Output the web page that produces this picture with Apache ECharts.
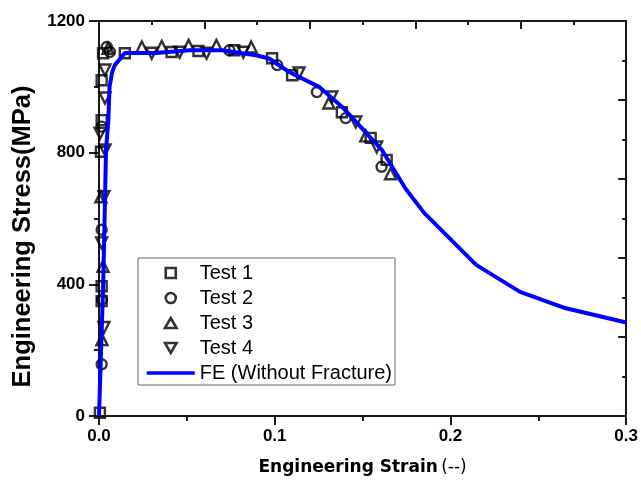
<!DOCTYPE html>
<html>
<head>
<meta charset="utf-8">
<script src="https://cdn.jsdelivr.net/npm/echarts@6/dist/echarts.min.js"></script>
<style>
html,body{margin:0;padding:0;background:#fff;}
#chart{width:641px;height:481px;}
</style>
</head>
<body>
<div id="chart"></div>
<script>
// FE curve (Without Fracture)
const feStrain = [0, 0.0024, 0.004, 0.0053, 0.006, 0.0075, 0.009, 0.0147, 0.0327, 0.0515, 0.070, 0.0893, 0.0968, 0.1082, 0.1252, 0.1384, 0.1497, 0.161, 0.1743, 0.185, 0.2146, 0.2396, 0.2645, 0.3];
const feStress = [0, 405, 808, 898, 1000, 1045, 1066, 1103, 1103, 1111, 1111, 1096, 1086, 1045, 1000, 939, 874, 808, 692, 617, 459, 377, 329, 284];

const test1Strain = [0.0005, 0.0015, 0.0015, 0.0011, 0.0015, 0.0015, 0.0023, 0.0147, 0.0413, 0.0566, 0.077, 0.0985, 0.1099, 0.1382, 0.1546, 0.1637];
const test1Stress = [10, 349, 394, 803, 899, 1020, 1102, 1102, 1106, 1109, 1111, 1087, 1035, 923, 845, 778];

const test2Strain = [0.0015, 0.0017, 0.0015, 0.0015, 0.0044, 0.0062, 0.0742, 0.1014, 0.124, 0.1404, 0.1608];
const test2Stress = [157, 354, 566, 879, 1121, 1106, 1111, 1066, 984, 905, 757];

const test3Strain = [0.0017, 0.0023, 0.0011, 0.0051, 0.0244, 0.0357, 0.051, 0.0668, 0.0866, 0.1308, 0.1518, 0.1659];
const test3Stress = [232, 455, 666, 1117, 1121, 1123, 1126, 1126, 1121, 951, 851, 736];

const test4Strain = [0.0028, 0.0015, 0.0028, 0.0006, 0.0034, 0.0034, 0.0034, 0.03, 0.0459, 0.0612, 0.0821, 0.1138, 0.1325, 0.1461, 0.158];
const test4Stress = [269, 526, 666, 859, 808, 966, 1051, 1102, 1105, 1102, 1105, 1042, 969, 893, 817];

const xTickLabels = ['0.0', '0.1', '0.2', '0.3'];
const yTickLabels = ['0', '400', '800', '1200'];
const seriesNames = ['Test 1', 'Test 2', 'Test 3', 'Test 4', 'FE (Without Fracture)'];

function pairs(xs, ys) { return xs.map((x, i) => [x, ys[i]]); }

const chart = echarts.init(document.getElementById('chart'), null, {renderer: 'canvas'});
const axisCol = '#1a1a1a';
const markerStyle = {color: 'rgba(255,255,255,0)', borderColor: '#000', borderWidth: 2.4};
const legendMarker = {color: 'rgba(255,255,255,0)', borderColor: '#000', borderWidth: 2.6};

function scatter(name, data, symbol, rotate, size) {
  return {
    name: name, type: 'scatter', data: data, symbol: symbol, symbolSize: size,
    symbolRotate: rotate || 0, symbolKeepAspect: true, itemStyle: markerStyle, z: 2,
    xAxisIndex: 0, yAxisIndex: 0
  };
}

const option = {
  animation: false,
  backgroundColor: '#fff',
  grid: {left: 99, right: 12, top: 21, bottom: 64, containLabel: false},
  legend: {
    orient: 'vertical', left: 138, top: 258,
    padding: [5, 3, 2, 7],
    borderColor: '#666', borderWidth: 1,
    itemWidth: 48, itemHeight: 10, itemGap: 5,
    symbolKeepAspect: true,
    textStyle: {fontFamily: 'Liberation Sans', fontSize: 20, color: '#000', lineHeight: 20},
    data: [
      {name: seriesNames[0], icon: 'path://M0,0L10,0L10,10L0,10Z', itemStyle: legendMarker},
      {name: seriesNames[1], icon: 'circle', itemStyle: legendMarker},
      {name: seriesNames[2], icon: 'path://M5,0L10,8.66L0,8.66Z', itemStyle: legendMarker},
      {name: seriesNames[3], icon: 'path://M0,0L10,0L5,8.66Z', itemStyle: legendMarker},
      {name: seriesNames[4], itemStyle: {opacity: 0}, lineStyle: {width: 3.5, color: '#0000FF'}}
    ]
  },
  xAxis: [{
    type: 'value', position: 'bottom', min: 0, max: 0.3, interval: 0.1,
    name: '{b|Engineering Strain} {r|(--)}', nameLocation: 'middle', nameGap: 43,
    nameTextStyle: {
      rich: {
        b: {fontFamily: 'DejaVu Sans', fontWeight: 'bold', fontSize: 17, color: '#000'},
        r: {fontFamily: 'DejaVu Sans', fontSize: 17, color: '#000'}
      }
    },
    axisLine: {show: true, onZero: false, lineStyle: {color: axisCol, width: 2}},
    axisTick: {show: true, inside: false, length: 9, lineStyle: {color: axisCol, width: 2}},
    minorTick: {show: true, splitNumber: 2, length: 5, lineStyle: {color: axisCol, width: 2}},
    splitLine: {show: false},
    axisLabel: {margin: 12, fontFamily: 'Liberation Sans', fontWeight: 'bold', fontSize: 17, color: '#000',
      formatter: function (v) { return xTickLabels[Math.round(v * 10)]; }}
  }, {
    type: 'value', position: 'top', min: 0, max: 0.3, interval: 0.06,
    axisLine: {show: true, onZero: false, lineStyle: {color: axisCol, width: 2}},
    axisTick: {show: true, inside: true, length: 8, lineStyle: {color: axisCol, width: 2}},
    minorTick: {show: true, splitNumber: 2, length: 4, lineStyle: {color: axisCol, width: 2}},
    splitLine: {show: false}, axisLabel: {show: false}
  }],
  yAxis: [{
    type: 'value', position: 'left', min: 0, max: 1200, interval: 400,
    name: 'Engineering Stress(MPa)', nameLocation: 'middle', nameGap: 62, nameRotate: 90,
    nameTextStyle: {fontFamily: 'Liberation Sans', fontWeight: 'bold', fontSize: 25.5, color: '#000', padding: [0, 36, 0, 0]},
    axisLine: {show: true, onZero: false, lineStyle: {color: axisCol, width: 2}},
    axisTick: {show: true, inside: false, length: 10, lineStyle: {color: axisCol, width: 2}},
    minorTick: {show: true, splitNumber: 2, length: 5, lineStyle: {color: axisCol, width: 2}},
    splitLine: {show: false},
    axisLabel: {margin: 14, fontFamily: 'Liberation Sans', fontWeight: 'bold', fontSize: 17, color: '#000',
      formatter: function (v) { return yTickLabels[Math.round(v / 400)]; }}
  }, {
    type: 'value', position: 'right', min: 0, max: 1200, interval: 240,
    axisLine: {show: true, onZero: false, lineStyle: {color: axisCol, width: 2}},
    axisTick: {show: true, inside: true, length: 8, lineStyle: {color: axisCol, width: 2}},
    minorTick: {show: true, splitNumber: 2, length: 4, lineStyle: {color: axisCol, width: 2}},
    splitLine: {show: false}, axisLabel: {show: false}
  }],
  series: [
    scatter('Test 1', pairs(test1Strain, test1Stress), 'rect', 0, 10),
    scatter('Test 2', pairs(test2Strain, test2Stress), 'circle', 0, 10),
    scatter('Test 3', pairs(test3Strain, test3Stress), 'triangle', 0, 11),
    scatter('Test 4', pairs(test4Strain, test4Stress), 'triangle', 180, 11),
    {
      name: 'FE (Without Fracture)', type: 'line', data: pairs(feStrain, feStress),
      showSymbol: false, symbol: 'none', z: 5,
      lineStyle: {color: '#0000FF', width: 4}, itemStyle: {color: '#0000FF'},
      xAxisIndex: 0, yAxisIndex: 0
    }
  ]
};
chart.setOption(option);
</script>
</body>
</html>
